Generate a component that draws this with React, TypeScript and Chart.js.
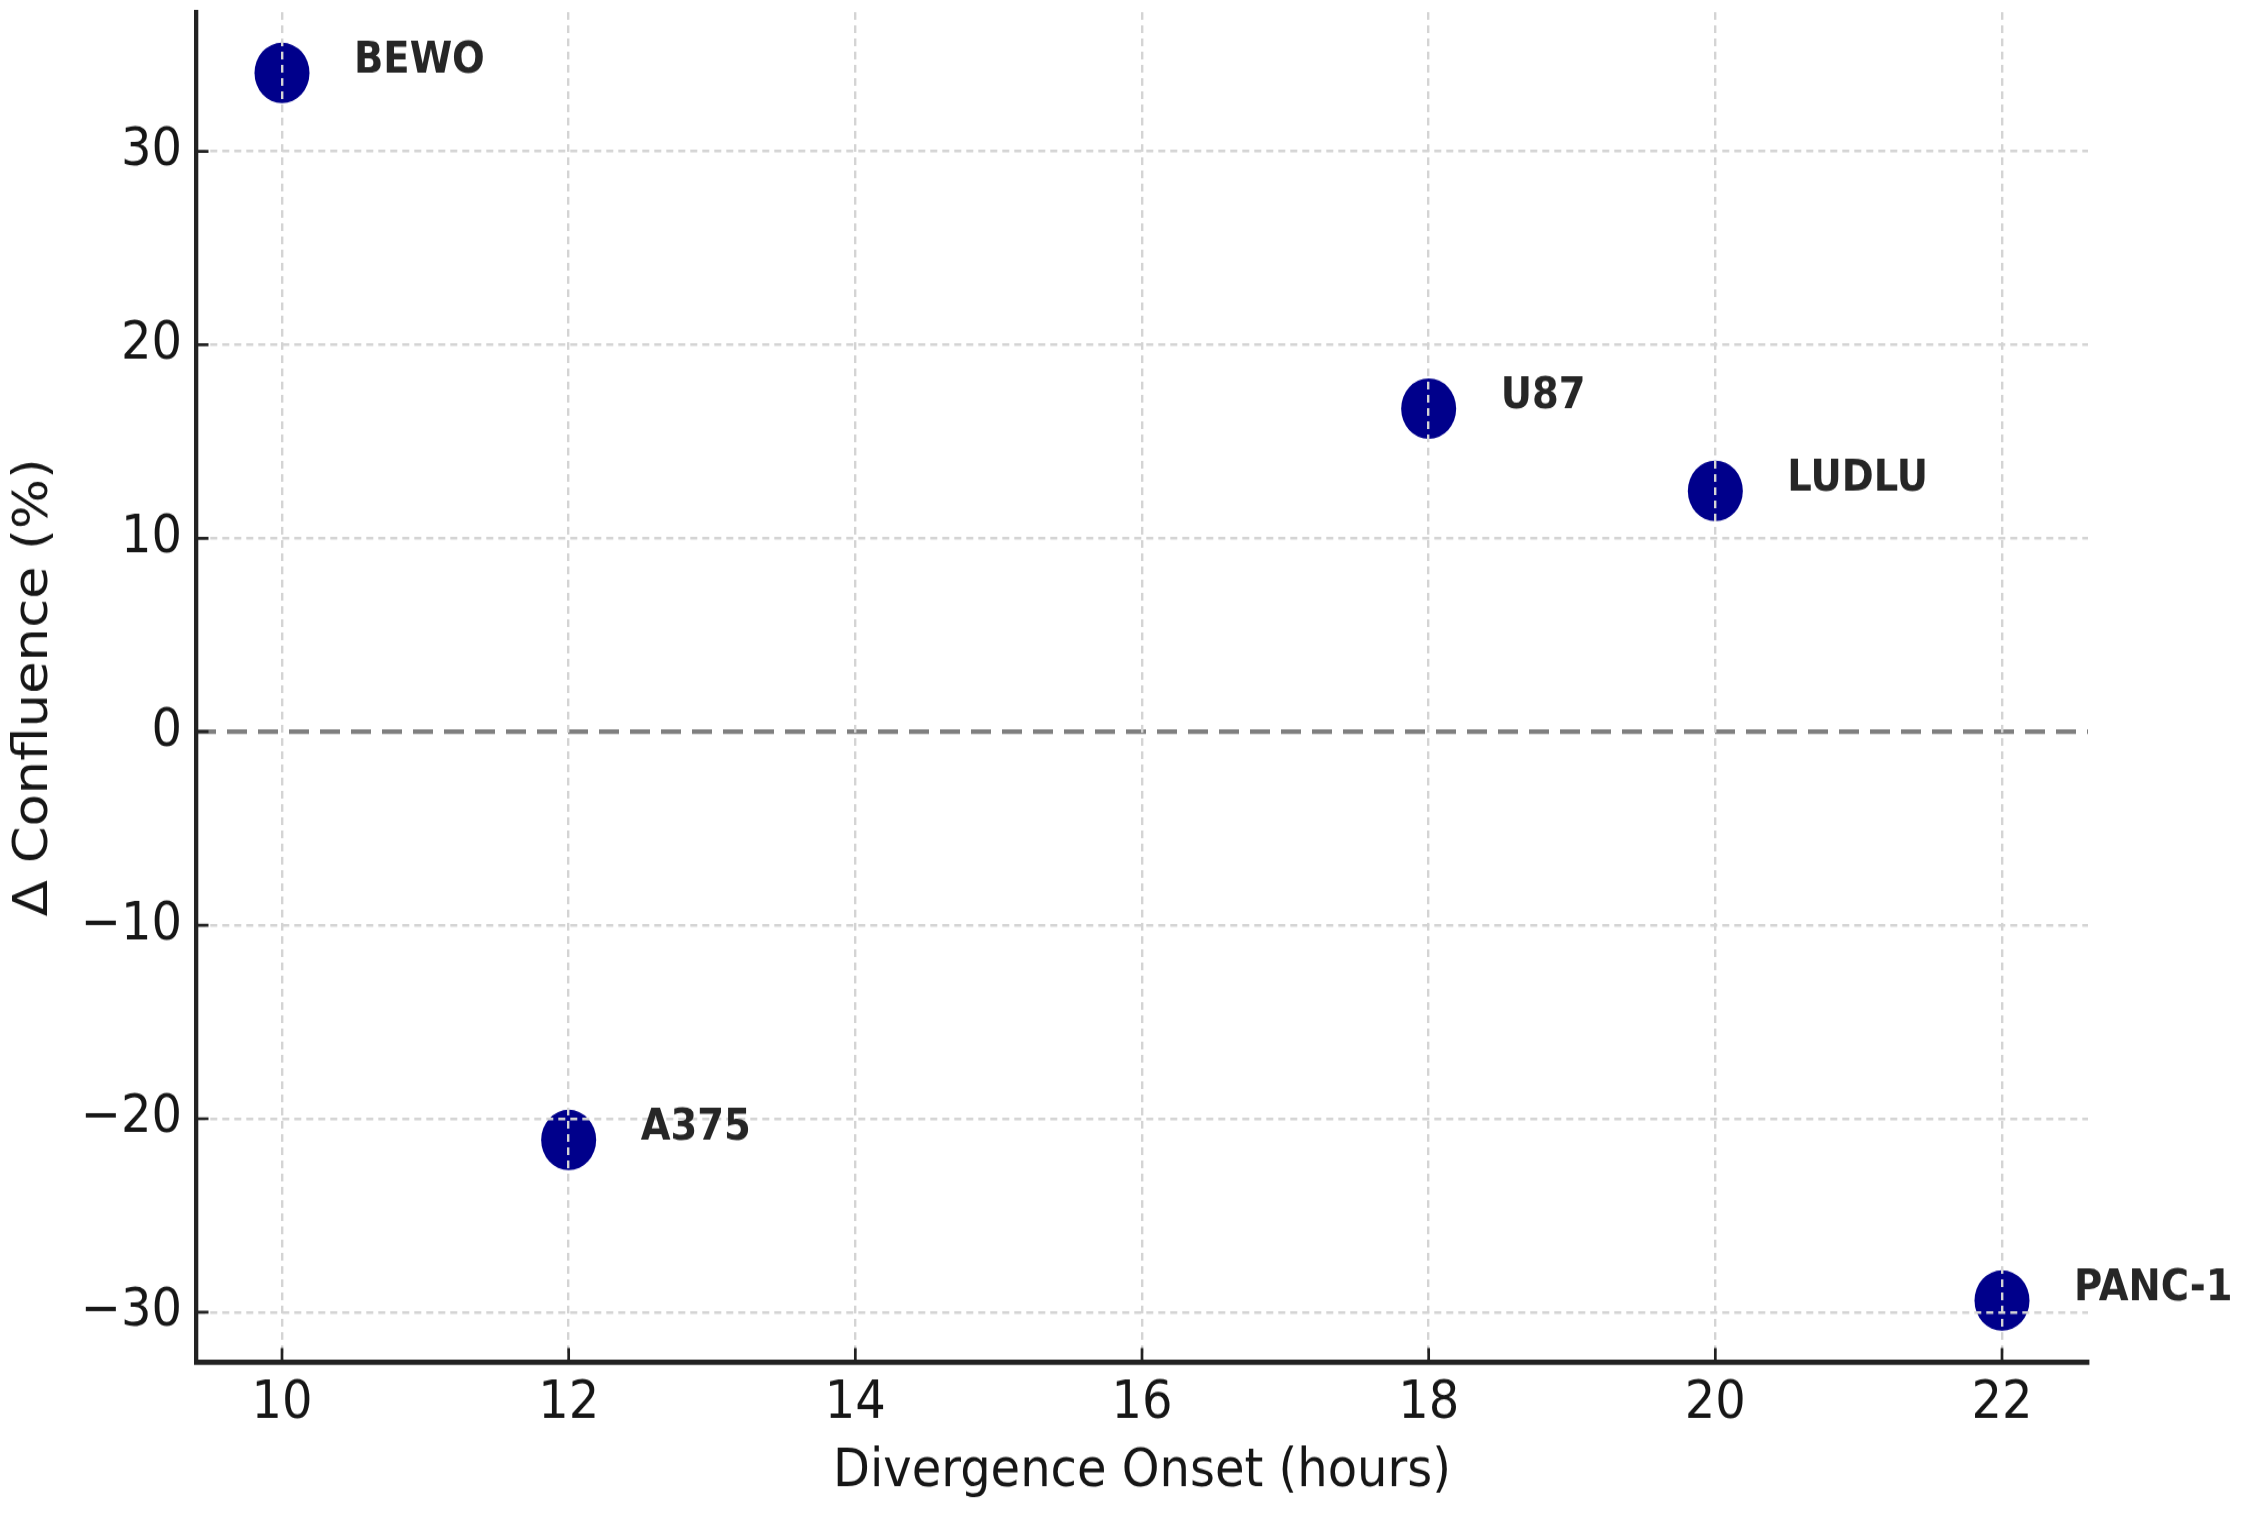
import { useEffect, useRef } from "react";
import { Chart, registerables } from "chart.js";

Chart.register(...registerables);

// ---- data ----
const cellLines = ["BEWO", "A375", "U87", "LUDLU", "PANC-1"];
const divergenceOnset = [10, 12, 18, 20, 22];
const deltaConfluence = [34.05, -21.1, 16.7, 12.45, -29.4];
const xTicks = [10, 12, 14, 16, 18, 20, 22];
const yTicks = [-30, -20, -10, 0, 10, 20, 30];
const xLimits = [9.4, 22.6];
const yLimits = [-32.6, 37.2];
const zeroLineY = [0, 0];
const xTitle = "Divergence Onset (hours)";
const yTitle = "Δ Confluence (%)";

const FONT = "'DejaVu Sans', 'Liberation Sans', sans-serif";
const TEXT = "#161616";

const annotatePlugin = {
  id: "annotateAndTicks",
  afterDraw(chart: any) {
    const { ctx, chartArea, scales } = chart;
    const x = scales.x;
    const y = scales.y;
    ctx.save();
    // inward tick marks
    ctx.strokeStyle = "#222";
    ctx.lineWidth = 2.7;
    ctx.setLineDash([]);
    ctx.beginPath();
    xTicks.forEach((v) => {
      const px = x.getPixelForValue(v);
      ctx.moveTo(px, chartArea.bottom);
      ctx.lineTo(px, chartArea.bottom - 13);
    });
    yTicks.forEach((v) => {
      const py = y.getPixelForValue(v);
      ctx.moveTo(chartArea.left, py);
      ctx.lineTo(chartArea.left + 12.5, py);
    });
    ctx.stroke();
    // point labels
    ctx.font = `bold 38.5px ${FONT}`;
    ctx.fillStyle = "#262626";
    ctx.textAlign = "left";
    ctx.textBaseline = "alphabetic";
    cellLines.forEach((name, i) => {
      const px = x.getPixelForValue(divergenceOnset[i]);
      const py = y.getPixelForValue(deltaConfluence[i]);
      ctx.fillText(name, px + 72, py);
    });
    ctx.restore();
  },
};

export default function App() {
  const ref = useRef<HTMLCanvasElement>(null);

  useEffect(() => {
    const canvas = ref.current;
    if (!canvas) return;
    const chart = new Chart(canvas, {
      type: "scatter",
      data: {
        datasets: [
          {
            label: "zero",
            data: xLimits.map((xv, i) => ({ x: xv, y: zeroLineY[i] })),
            showLine: true,
            borderColor: "#7f7f7f",
            borderWidth: 4.2,
            borderDash: [20, 11],
            pointRadius: 0,
            fill: false,
          } as any,
          {
            label: "cells",
            data: divergenceOnset.map((xv, i) => ({ x: xv, y: deltaConfluence[i] })),
            pointRadius: 27.5,
            pointHoverRadius: 27.5,
            pointBackgroundColor: "#00008B",
            pointBorderColor: "#00008B",
            pointBorderWidth: 0,
            backgroundColor: "#00008B",
            borderColor: "#00008B",
          } as any,
        ],
      },
      options: {
        animation: false,
        responsive: false,
        devicePixelRatio: 1,
        events: [],
        layout: { autoPadding: false, padding: { top: 10.9, right: 158, bottom: 0, left: 0 } },
        plugins: {
          legend: { display: false },
          tooltip: { enabled: false },
        },
        scales: {
          x: {
            type: "linear",
            min: xLimits[0],
            max: xLimits[1],
            afterBuildTicks: (s: any) => {
              s.ticks = xTicks.map((v) => ({ value: v }));
            },
            afterFit: (s: any) => {
              s.height = 139.4;
              s.paddingLeft = 0;
              s.paddingRight = 0;
            },
            ticks: {
              autoSkip: false,
              maxRotation: 0,
              minRotation: 0,
              padding: 9,
              color: TEXT,
              font: { family: FONT, size: 48 },
              callback: (v: any) => String(v),
            },
            grid: {
              color: "#d4d4d4",
              lineWidth: 2.4,
              drawTicks: false,
              z: 1,
            },
            border: { display: true, color: "#222", width: 4.8, dash: [7, 5], z: 2 },
            title: {
              display: true,
              text: xTitle,
              color: TEXT,
              font: { family: FONT, size: 48 },
              padding: { top: 0, bottom: 11 },
            },
          },
          y: {
            type: "linear",
            min: yLimits[0],
            max: yLimits[1],
            afterBuildTicks: (s: any) => {
              s.ticks = yTicks.map((v) => ({ value: v }));
            },
            afterFit: (s: any) => {
              s.width = 196;
              s.paddingTop = 0;
              s.paddingBottom = 0;
            },
            ticks: {
              autoSkip: false,
              padding: 14,
              color: TEXT,
              font: { family: FONT, size: 48 },
              callback: (v: any) => String(v).replace("-", "\u2212"),
            },
            grid: {
              color: (c: any) => (c.tick && c.tick.value === 0 ? "rgba(0,0,0,0)" : "#d4d4d4"),
              lineWidth: 2.4,
              drawTicks: false,
              z: 1,
            },
            border: { display: true, color: "#222", width: 4.3, dash: [7, 5], z: 2 },
            title: {
              display: true,
              text: yTitle,
              color: TEXT,
              font: { family: FONT, size: 48 },
              padding: { top: 6, bottom: 0 },
            },
          },
        },
      } as any,
      plugins: [annotatePlugin],
    });
    return () => chart.destroy();
  }, []);

  return (
    <div
      style={{
        position: "absolute",
        left: 0,
        top: 0,
        width: 2246,
        height: 1516,
        overflow: "hidden",
        background: "#fff",
      }}
    >
      <canvas
        ref={ref}
        width={2246}
        height={1378}
        style={{
          display: "block",
          width: "2246px",
          height: "1378px",
          transform: "scaleY(1.1)",
          transformOrigin: "0 0",
        }}
      />
    </div>
  );
}
